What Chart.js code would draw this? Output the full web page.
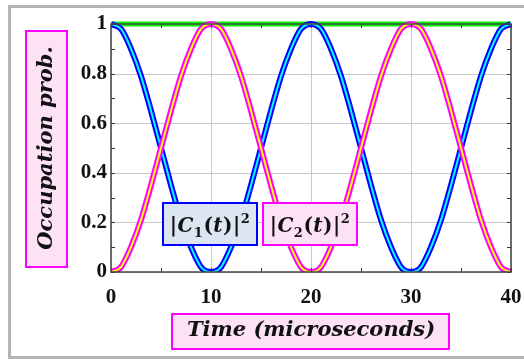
<!DOCTYPE html>
<html>
<head>
<meta charset="utf-8">
<script src="https://cdn.jsdelivr.net/npm/chart.js@4.4.1/dist/chart.umd.min.js"></script>
<style>
  html, body { margin: 0; padding: 0; background: #fff; overflow: hidden; }
  #frame { position: absolute; left: 8px; top: 5px; width: 600px; height: 348px; border: 3px solid #b4b4b4; }
  #wrap { position: absolute; left: 0; top: 0; width: 524px; height: 360px; }
</style>
</head>
<body>
<div id="frame"></div>
<div id="wrap"><canvas id="chart" width="524" height="360"></canvas></div>
<script>
// time axis (microseconds)
const times = [0,1,2,3,4,5,6,7,8,9,10,11,12,13,14,15,16,17,18,19,20,
               21,22,23,24,25,26,27,28,29,30,31,32,33,34,35,36,37,38,39,40];
// |C1(t)|^2
const c1Values = [1.00,0.98,0.90,0.79,0.65,0.50,0.35,0.21,0.10,0.02,0.00,
                  0.02,0.10,0.21,0.35,0.50,0.65,0.79,0.90,0.98,1.00,
                  0.98,0.90,0.79,0.65,0.50,0.35,0.21,0.10,0.02,0.00,
                  0.02,0.10,0.21,0.35,0.50,0.65,0.79,0.90,0.98,1.00];
// |C2(t)|^2
const c2Values = [0.00,0.02,0.10,0.21,0.35,0.50,0.65,0.79,0.90,0.98,1.00,
                  0.98,0.90,0.79,0.65,0.50,0.35,0.21,0.10,0.02,0.00,
                  0.02,0.10,0.21,0.35,0.50,0.65,0.79,0.90,0.98,1.00,
                  0.98,0.90,0.79,0.65,0.50,0.35,0.21,0.10,0.02,0.00];
// total probability
const sumTimes = [0, 40];
const sumValues = [1, 1];

const xTicks = [0, 10, 20, 30, 40];
const yTicks = [0, 0.2, 0.4, 0.6, 0.8, 1];
const yTickLabels = ["0", "0.2", "0.4", "0.6", "0.8", "1"];

const xTitle = "Time (microseconds)";
const yTitle = "Occupation prob.";
const legendNames = ["C1", "C2"];

const serif = "'DejaVu Serif', serif";
const tickFont = { family: "'Liberation Serif', serif", size: 21, weight: "bold" };
const titleFont = { family: serif, size: 21, weight: "bold", style: "italic" };

const pts = (xs, ys) => xs.map((x, i) => ({ x: x, y: ys[i] }));

function line(data, color, width, order) {
  return {
    data: data, borderColor: color, borderWidth: width, pointRadius: 0,
    cubicInterpolationMode: "monotone", fill: false, order: order,
    clip: { left: 0, right: 0, top: 6, bottom: 0 }
  };
}

// boxes behind axis titles, plus grid lines at the major ticks
const backdrop = {
  id: "backdrop",
  beforeDraw(chart) {
    const ctx = chart.ctx;
    ctx.save();
    ctx.fillStyle = "#fde2f6";
    ctx.strokeStyle = "#ff00ff";
    ctx.lineWidth = 2;
    ctx.fillRect(26, 31, 41, 236);
    ctx.strokeRect(26, 31, 41, 236);
    ctx.fillRect(172, 314, 277, 35);
    ctx.strokeRect(172, 314, 277, 35);
    ctx.restore();
  },
  beforeDatasetsDraw(chart) {
    const { ctx, chartArea: a, scales } = chart;
    ctx.save();
    ctx.strokeStyle = "#c8c8c8";
    ctx.lineWidth = 1;
    ctx.beginPath();
    xTicks.forEach(v => {
      const px = Math.round(scales.x.getPixelForValue(v)) + 0.5;
      ctx.moveTo(px, a.top); ctx.lineTo(px, a.bottom);
    });
    yTicks.forEach(v => {
      const py = Math.round(scales.y.getPixelForValue(v)) + 0.5;
      ctx.moveTo(a.left, py); ctx.lineTo(a.right, py);
    });
    ctx.stroke();
    ctx.restore();
  }
};

function drawLabel(ctx, name, cx, baseline) {
  const big = "bold 20px " + serif, bigI = "italic bold 20px " + serif;
  const small = "bold 13px " + serif;
  const parts = [
    ["|", big, 0], ["C", bigI, 0], [name.slice(1), small, 5], ["(", big, 0],
    ["t", bigI, 0], [")", big, 0], ["|", big, 0], ["2", small, -9]
  ];
  let w = 0;
  parts.forEach(p => { ctx.font = p[1]; w += ctx.measureText(p[0]).width + 0.5; });
  let x = cx - w / 2;
  ctx.fillStyle = "#111";
  ctx.textBaseline = "alphabetic";
  parts.forEach(p => {
    ctx.font = p[1];
    ctx.fillText(p[0], x, baseline + p[2]);
    x += ctx.measureText(p[0]).width + 0.5;
  });
}

// frame, inward ticks, legend boxes
const overlay = {
  id: "overlay",
  afterDatasetsDraw(chart) {
    const { ctx, chartArea: a, scales } = chart;
    ctx.save();
    ctx.strokeStyle = "#333";
    ctx.lineWidth = 1;
    for (let v = 0; v <= 40; v += 5) {
      const px = Math.round(scales.x.getPixelForValue(v)) + 0.5;
      ctx.beginPath();
      ctx.moveTo(px, a.bottom); ctx.lineTo(px, a.bottom - 4);
      ctx.moveTo(px, a.top); ctx.lineTo(px, a.top + 4);
      ctx.stroke();
    }
    for (let k = 0; k <= 10; k++) {
      const py = Math.round(scales.y.getPixelForValue(k / 10)) + 0.5;
      ctx.beginPath();
      ctx.moveTo(a.left, py); ctx.lineTo(a.left + 4, py);
      ctx.moveTo(a.right, py); ctx.lineTo(a.right - 4, py);
      ctx.stroke();
    }
    ctx.lineWidth = 1.5;
    ctx.strokeStyle = "#444";
    ctx.strokeRect(a.left, a.top, a.right - a.left, a.bottom - a.top);

    const boxes = [
      { x: a.left + 52, fill: "#dce6f2", stroke: "#0000ff" },
      { x: a.left + 152, fill: "#fde2f6", stroke: "#ff00ff" }
    ];
    boxes.forEach((b, i) => {
      const y = a.bottom - 69;
      ctx.fillStyle = b.fill;
      ctx.strokeStyle = b.stroke;
      ctx.lineWidth = 2;
      ctx.fillRect(b.x, y, 94, 42);
      ctx.strokeRect(b.x, y, 94, 42);
      drawLabel(ctx, legendNames[i], b.x + 47, y + 29);
    });
    ctx.restore();
  }
};

new Chart(document.getElementById("chart"), {
  type: "line",
  data: {
    datasets: [
      line(pts(times, c2Values), "#ffff00", 2, 0),
      line(pts(times, c2Values), "#ff00ff", 6, 1),
      line(pts(times, c1Values), "#00ffff", 2, 2),
      line(pts(times, c1Values), "#0000ff", 6, 3),
      line(pts(sumTimes, sumValues), "#00ff00", 5, 4)
    ]
  },
  options: {
    responsive: false,
    animation: false,
    devicePixelRatio: 1,
    layout: { padding: { left: 0, top: 24, right: 13, bottom: 0 } },
    plugins: { legend: { display: false }, tooltip: { enabled: false } },
    scales: {
      x: {
        type: "linear", min: 0, max: 40,
        afterBuildTicks(s) { s.ticks = xTicks.map(v => ({ value: v })); },
        ticks: { font: tickFont, color: "#111", padding: 13, maxRotation: 0, autoSkip: false },
        grid: { display: false, drawTicks: false },
        border: { display: false },
        title: { display: true, text: xTitle, font: titleFont, color: "#111", padding: { top: 0, bottom: 17 } },
        afterFit(s) { s.height = 88; s.paddingLeft = 0; s.paddingRight = 0; }
      },
      y: {
        min: 0, max: 1,
        afterBuildTicks(s) { s.ticks = yTicks.map(v => ({ value: v })); },
        ticks: {
          font: tickFont, color: "#111", padding: 4, autoSkip: false,
          callback: (v) => yTickLabels[yTicks.indexOf(v)] ?? String(v)
        },
        grid: { display: false, drawTicks: false },
        border: { display: false },
        title: { display: true, text: yTitle, font: titleFont, color: "#111", padding: { top: 34, bottom: 0 } },
        afterFit(s) { s.width = 111; s.paddingTop = 0; s.paddingBottom = 0; }
      }
    }
  },
  plugins: [backdrop, overlay]
});
</script>
</body>
</html>
